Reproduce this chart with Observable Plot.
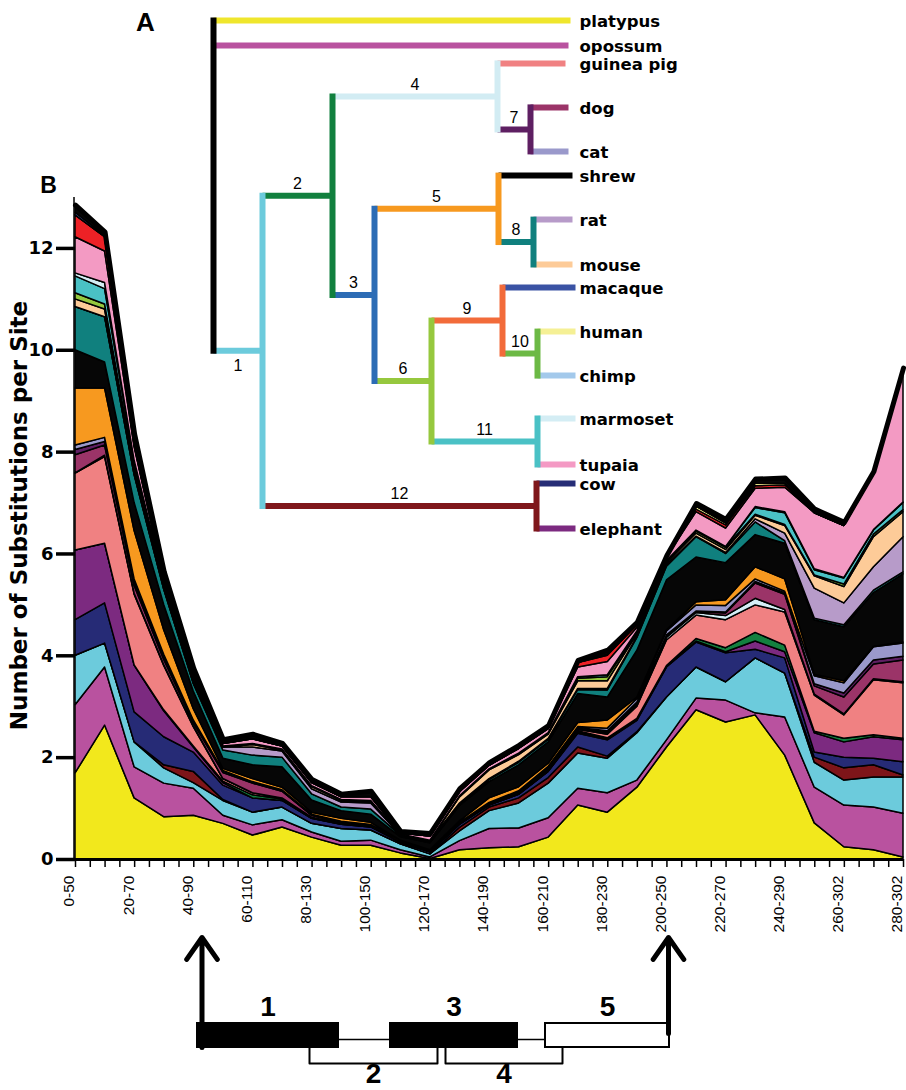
<!DOCTYPE html>
<html><head><meta charset="utf-8">
<script src="https://cdn.jsdelivr.net/npm/d3@7"></script>
<script src="https://cdn.jsdelivr.net/npm/@observablehq/plot@0.6"></script>
<style>
body{margin:0;background:#fff;}
#wrap{position:relative;width:906px;height:1090px;overflow:hidden;background:#fff}
#wrap svg{position:absolute;left:0;overflow:visible;background:transparent}
</style></head><body><div id="wrap"></div>
<script>
// ---------- DATA ----------
const windowLabels = ["0-50","10-60","20-70","30-80","40-90","50-100","60-110","70-120","80-130","90-140","100-150","110-160","120-170","130-180","140-190","150-200","160-210","170-220","180-230","190-240","200-250","210-260","220-270","230-280","240-290","250-300","260-302","270-302","280-302"];
const yTicks = [0, 2, 4, 6, 8, 10, 12];
const yTitle = "Number of Substitutions per Site";

// cumulative (stacked) upper boundary of each layer, bottom to top
const platypus  = [1.69,2.63,1.2,0.83,0.86,0.7,0.47,0.63,0.43,0.27,0.27,0.12,0.01,0.18,0.22,0.24,0.43,1.06,0.92,1.41,2.2,2.93,2.69,2.83,2.04,0.71,0.24,0.18,0.04];
const opossum   = [3.03,3.77,1.81,1.49,1.39,0.86,0.67,0.77,0.53,0.35,0.37,0.18,0.04,0.36,0.6,0.61,0.81,1.39,1.3,1.55,2.34,3.16,3.12,2.87,2.79,1.41,1.06,1.02,0.9];
const branch1   = [4.0,4.24,2.3,1.79,1.5,1.15,0.92,1.02,0.7,0.6,0.57,0.3,0.1,0.55,0.95,1.1,1.49,2.08,1.98,2.48,3.18,3.77,3.48,3.95,3.65,1.9,1.55,1.61,1.61];
const branch12  = [4.0,4.24,2.3,1.85,1.72,1.17,0.92,1.02,0.7,0.6,0.57,0.3,0.1,0.62,1.02,1.2,1.6,2.2,2.02,2.5,3.18,3.77,3.48,3.95,3.65,2.0,1.79,1.85,1.65];
const cow       = [4.7,5.03,2.89,2.4,2.1,1.45,1.2,1.15,0.8,0.68,0.63,0.33,0.14,0.68,1.06,1.27,1.72,2.47,2.34,2.72,3.77,4.26,4.05,4.12,3.95,2.1,2.0,1.98,1.91];
const elephant  = [6.07,6.2,3.81,2.91,2.2,1.5,1.2,1.15,0.8,0.68,0.63,0.33,0.14,0.68,1.06,1.27,1.72,2.5,2.36,2.74,3.78,4.28,4.07,4.28,4.07,2.48,2.3,2.4,2.34];
const branch2   = [6.07,6.2,3.81,2.93,2.22,1.53,1.26,1.18,0.81,0.69,0.64,0.33,0.14,0.69,1.07,1.28,1.73,2.52,2.38,2.76,3.8,4.33,4.15,4.45,4.2,2.51,2.37,2.44,2.37];
const guineaPig = [7.58,7.9,5.2,3.8,2.6,1.58,1.3,1.2,0.82,0.7,0.65,0.34,0.15,0.7,1.08,1.3,1.75,2.55,2.45,3.0,4.3,4.79,4.7,4.99,4.85,3.22,2.83,3.52,3.46];
const branch4   = [7.58,7.93,5.22,3.82,2.62,1.58,1.3,1.2,0.82,0.7,0.65,0.34,0.15,0.7,1.08,1.3,1.76,2.55,2.47,3.02,4.35,4.84,4.78,5.12,4.9,3.24,2.85,3.54,3.48];
const dog       = [7.94,8.13,5.37,3.92,2.68,1.7,1.49,1.33,0.86,0.72,0.67,0.35,0.16,0.71,1.09,1.31,1.77,2.57,2.5,3.06,4.38,4.86,4.83,5.42,5.2,3.4,3.18,3.83,3.91];
const branch7   = [8.04,8.2,5.43,3.97,2.71,1.72,1.5,1.34,0.86,0.72,0.67,0.35,0.16,0.71,1.09,1.31,1.78,2.58,2.52,3.08,4.4,4.87,4.85,5.45,5.23,3.44,3.26,3.91,3.98];
const cat       = [8.13,8.28,5.5,4.02,2.73,1.74,1.52,1.36,0.88,0.74,0.68,0.36,0.17,0.72,1.11,1.34,1.82,2.6,2.57,3.15,4.48,4.99,4.98,5.5,5.26,3.6,3.46,4.17,4.24];
const branch5   = [9.25,9.25,6.45,4.5,2.95,1.78,1.58,1.41,0.92,0.8,0.72,0.37,0.18,0.75,1.2,1.42,1.88,2.68,2.73,3.18,4.5,5.05,5.09,5.74,5.5,3.63,3.5,4.18,4.26];
const shrew     = [10.0,9.76,7.0,5.0,3.3,1.98,1.85,1.81,1.16,0.95,0.88,0.44,0.32,1.05,1.52,1.85,2.3,3.25,3.18,4.1,5.48,5.93,5.82,6.37,6.2,4.7,4.56,5.23,5.6];
const branch8   = [10.85,10.65,7.55,5.3,3.45,2.14,2.04,2.0,1.28,1.02,0.98,0.47,0.35,1.08,1.56,1.9,2.35,3.33,3.32,4.35,5.75,6.33,6.0,6.62,6.25,4.73,4.6,5.28,5.64];
const rat       = [10.85,10.65,7.55,5.3,3.45,2.2,2.2,2.12,1.38,1.12,1.1,0.48,0.36,1.1,1.58,1.92,2.37,3.35,3.35,4.37,5.78,6.34,6.02,6.68,6.4,5.32,5.03,5.74,6.33];
const mouse     = [11.0,10.8,7.63,5.36,3.5,2.2,2.25,2.14,1.42,1.15,1.13,0.48,0.36,1.22,1.75,2.05,2.45,3.5,3.5,4.42,5.82,6.4,6.08,6.75,6.55,5.56,5.35,6.33,6.82];
const branch6   = [11.12,10.9,7.68,5.39,3.52,2.21,2.26,2.15,1.43,1.16,1.14,0.48,0.36,1.23,1.76,2.07,2.47,3.55,3.58,4.45,5.85,6.44,6.12,6.77,6.57,5.58,5.4,6.38,6.86];
const branch11  = [11.45,11.2,7.8,5.45,3.57,2.21,2.27,2.16,1.44,1.17,1.15,0.49,0.37,1.24,1.77,2.08,2.48,3.58,3.62,4.48,5.86,6.46,6.14,6.9,6.8,5.68,5.52,6.46,7.0];
const marmoset  = [11.51,11.32,7.83,5.47,3.58,2.22,2.27,2.16,1.44,1.17,1.15,0.49,0.37,1.24,1.77,2.08,2.48,3.58,3.62,4.48,5.86,6.46,6.14,6.92,6.82,5.7,5.53,6.47,7.01];
const tupaia    = [12.22,11.94,8.1,5.5,3.63,2.27,2.36,2.22,1.5,1.22,1.22,0.51,0.45,1.32,1.84,2.17,2.56,3.77,3.88,4.55,5.93,6.82,6.5,7.28,7.3,6.8,6.55,7.56,9.55];
const branch9   = [12.65,12.22,8.13,5.51,3.64,2.27,2.36,2.22,1.5,1.22,1.22,0.51,0.45,1.32,1.84,2.17,2.56,3.86,4.0,4.6,5.93,6.87,6.56,7.33,7.35,6.8,6.55,7.56,9.55];
const human     = [12.65,12.22,8.13,5.51,3.64,2.27,2.36,2.22,1.5,1.22,1.22,0.51,0.45,1.32,1.84,2.17,2.56,3.86,4.02,4.6,5.93,6.93,6.6,7.38,7.38,6.8,6.55,7.56,9.55];
const macaque   = [12.7,12.25,8.17,5.53,3.66,2.28,2.37,2.23,1.51,1.23,1.23,0.51,0.45,1.33,1.84,2.18,2.57,3.86,4.02,4.6,5.93,6.93,6.6,7.38,7.38,6.8,6.55,7.56,9.55];
const total     = [12.85,12.32,8.35,5.65,3.75,2.35,2.46,2.28,1.57,1.28,1.34,0.55,0.51,1.39,1.9,2.24,2.63,3.91,4.11,4.66,5.97,6.99,6.68,7.47,7.49,6.88,6.62,7.62,9.65];

const seriesNames = ["platypus","opossum","branch 1","branch 12","cow","elephant","branch 2","guinea pig","branch 4","dog","branch 7","cat","branch 5","shrew","branch 8","rat","mouse","branch 6","branch 11","marmoset","tupaia","branch 9","human","macaque","other"];

// tree: node, parent, depth (branch-length units); leaves with their row
const treeIds     = ["root","platypus","opossum","1","2","4","guinea pig","7","dog","cat","3","5","shrew","8","rat","mouse","6","9","macaque","10","human","chimp","11","marmoset","tupaia","12","cow","elephant"];
const treeParents = [null,"root","root","root","1","2","4","4","7","7","2","3","5","5","8","8","3","6","9","9","10","10","6","11","11","1","12","12"];
const treeDepths  = [0,3.57,3.55,0.49,1.19,2.84,3.52,3.17,3.55,3.55,1.61,2.85,3.59,3.20,3.59,3.59,2.18,2.89,3.62,3.24,3.62,3.62,3.24,3.62,3.62,3.23,3.62,3.62];
const leafNames   = ["platypus","opossum","guinea pig","dog","cat","shrew","rat","mouse","macaque","human","chimp","marmoset","tupaia","cow","elephant"];
const leafRows    = [0,1.14,1.95,3.95,5.95,7.05,9.05,11.09,12.14,14.14,16.14,18.09,20.18,21.05,23.09];

// gene structure (schematic units)
const exonLabels = ["1","3","5"], exonStarts = [0,193,348], exonEnds = [141,320,472];
const altLabels = ["2","4"], altStarts = [112,248], altEnds = [240,365];
const intronStarts = [141,320], intronEnds = [193,348];
const arrowAt = [4.5, 471];

// ---------- STYLES ----------
const seriesColors = ["#f2e81c","#b9529f","#6ccbdc","#7e1519","#262b76","#7c2a80","#13803f","#f08182","#d4eef6","#9b3468","#5e1f62","#9a99cb","#f7991f","#060606","#10807e","#b79bc9","#fdcb98","#95c83e","#4ac1c5","#d4edf4","#f39ac3","#ed2126","#f5f08f","#3a53a4","#060606"];
const treeColors = {"root":"#000","platypus":"#efe62c","opossum":"#b9529f","1":"#6ccbdc","2":"#11803e","4":"#d2ecf3","guinea pig":"#f08182","7":"#5e1f62","dog":"#9b3468","cat":"#9a99cb","3":"#2c6cb5","5":"#f7991f","shrew":"#000","8":"#10807e","rat":"#b79bc9","mouse":"#fdcb98","6":"#96c83e","9":"#f26b3a","macaque":"#3a53a4","10":"#6cb945","human":"#f5f095","chimp":"#a3c9eb","11":"#4ac1c5","marmoset":"#d4edf4","tupaia":"#f49ac4","12":"#7f171b","cow":"#262d76","elephant":"#7c2a80"};
const exonFill = {"1":"#000","3":"#000","5":"#fff"};

// ---------- MAIN STACKED AREA ----------
const layerTops = [platypus,opossum,branch1,branch12,cow,elephant,branch2,guineaPig,branch4,dog,branch7,cat,branch5,shrew,branch8,rat,mouse,branch6,branch11,marmoset,tupaia,branch9,human,macaque,total];
const rows = [];
let lower = windowLabels.map(() => 0);
layerTops.forEach((tops, k) => {
  const upper = tops.map((t, i) => Math.max(t, lower[i]));
  upper.forEach((u, i) => rows.push({i, lo: lower[i], hi: u, series: seriesNames[k]}));
  lower = upper;
});
const totalRows = total.map((v, i) => ({i, v}));
const halfSteps = d3.range(0, windowLabels.length - 0.5, 0.5);
const labelSteps = d3.range(0, windowLabels.length, 2);

const main = Plot.plot({
  width: 906, height: 955,
  marginLeft: 75, marginRight: 3, marginTop: 197, marginBottom: 96,
  x: {domain: [0, windowLabels.length - 1]},
  y: {domain: [0, 13]},
  color: {domain: seriesNames, range: seriesColors},
  style: {fontFamily: "DejaVu Sans", background: "transparent", overflow: "visible"},
  marks: [
    Plot.areaY(rows, {x: "i", y1: "lo", y2: "hi", z: "series", fill: "series", stroke: "#000", strokeWidth: 1.5, strokeLinejoin: "round"}),
    Plot.lineY(totalRows, {x: "i", y: "v", stroke: "#000", strokeWidth: 5, strokeLinejoin: "round"}),
    Plot.ruleY([0], {stroke: "#000", strokeWidth: 3}),
    Plot.ruleX([0], {y1: () => 0, y2: () => 13, stroke: "#000", strokeWidth: 1.5, dx: -1.5}),
    Plot.axisY({ticks: yTicks, tickSize: 19, strokeWidth: 3.5, tickPadding: 3, fontSize: 18, fontWeight: "bold", label: null}),
    Plot.axisX({ticks: halfSteps, tickSize: 8, strokeWidth: 1.5, tickFormat: () => "", label: null}),
    Plot.axisX({ticks: labelSteps, tickSize: 0, tickPadding: 16, tickRotate: -90, dx: -6, tickFormat: d => windowLabels[d], fontSize: 15.5, fontFamily: "Liberation Sans", label: null}),
    Plot.text([yTitle], {frameAnchor: "left", textAnchor: "middle", lineAnchor: "middle", rotate: -90, dx: -56, dy: -13, fontSize: 23, fontWeight: "bold", fill: "#000"}),
    Plot.text(["B"], {frameAnchor: "top-left", textAnchor: "middle", lineAnchor: "middle", dx: -27, dy: -12, fontSize: 23, fontWeight: "bold", fontFamily: "Liberation Sans", fill: "#000"})
  ]
});

// ---------- TREE ----------
const depthOf = new Map(treeIds.map((id, k) => [id, treeDepths[k]]));
const parentOf = new Map(treeIds.map((id, k) => [id, treeParents[k]]));
const childrenOf = new Map(treeIds.map(id => [id, treeIds.filter((c, k) => treeParents[k] === id)]));
const leafRowOf = new Map(leafNames.map((n, k) => [n, leafRows[k]]));
const rowOf = new Map();
function row(id) {
  if (rowOf.has(id)) return rowOf.get(id);
  const ch = childrenOf.get(id);
  const r = ch.length ? (row(ch[0]) + row(ch[ch.length - 1])) / 2 : leafRowOf.get(id);
  rowOf.set(id, r);
  return r;
}
treeIds.forEach(row);
const horiz = treeIds.filter(id => parentOf.get(id)).map(id => ({x1: depthOf.get(parentOf.get(id)), x2: depthOf.get(id), y: rowOf.get(id), color: treeColors[id]}));
const vert = treeIds.filter(id => childrenOf.get(id).length).map(id => {
  const ch = childrenOf.get(id);
  return {x: depthOf.get(id), ya: rowOf.get(ch[0]), yb: rowOf.get(ch[ch.length - 1]), color: treeColors[id]};
});
const maxDepth = d3.max(treeDepths);
const leaves = leafNames.map(n => ({name: n, y: rowOf.get(n)}));
const branchNodes = treeIds.filter(id => parentOf.get(id) && childrenOf.get(id).length).map(id => ({id, x: (depthOf.get(parentOf.get(id)) + depthOf.get(id)) / 2, y: rowOf.get(id)}));

const tree = Plot.plot({
  width: 906, height: 560,
  marginLeft: 213, marginRight: 331, marginTop: 20, marginBottom: 32,
  x: {domain: [0, maxDepth], axis: null},
  y: {domain: [0, d3.max(leafRows)], reverse: true, axis: null},
  color: {type: "identity"},
  style: {background: "transparent", overflow: "visible"},
  marks: [
    Plot.link(horiz, {x1: "x1", x2: "x2", y1: "y", y2: "y", stroke: "color", strokeWidth: 6}),
    Plot.link(vert, {x1: "x", x2: "x", y1: "ya", y2: "yb", stroke: "color", strokeWidth: 6, strokeLinecap: "square"}),
    Plot.text(leaves, {x: () => maxDepth, y: "y", text: "name", dx: 4, dy: 1, textAnchor: "start", fontSize: 16.5, fontWeight: "bold", fontFamily: "DejaVu Sans", fill: "#000"}),
    Plot.text(branchNodes.filter(d => d.id !== "1"), {x: "x", y: "y", text: "id", dy: -12, fontSize: 16, fontFamily: "Liberation Sans", fill: "#000"}),
    Plot.text(branchNodes.filter(d => d.id === "1"), {x: "x", y: "y", text: "id", dy: 15, fontSize: 16, fontFamily: "Liberation Sans", fill: "#000"}),
    Plot.text(["A"], {frameAnchor: "top-left", textAnchor: "middle", lineAnchor: "middle", dx: -68, dy: 2, fontSize: 26, fontWeight: "bold", fontFamily: "Liberation Sans", fill: "#000"})
  ]
});

// ---------- GENE DIAGRAM ----------
const exons = exonLabels.map((l, k) => ({label: l, start: exonStarts[k], end: exonEnds[k], fill: exonFill[l]}));
const alts = altLabels.map((l, k) => ({label: l, start: altStarts[k], end: altEnds[k]}));
const introns = intronStarts.map((s, k) => ({start: s, end: intronEnds[k]}));
const BOX_LO = 4.3, BOX_HI = 6.7, LINE_Y = 5.1, BRACKET_LO = 2.7;
const bracketPts = alts.flatMap(a => [
  {x: a.start, y: BOX_LO, z: a.label}, {x: a.start, y: BRACKET_LO, z: a.label},
  {x: a.end, y: BRACKET_LO, z: a.label}, {x: a.end, y: BOX_LO, z: a.label}]);
const arrows = arrowAt.map((x, k) => ({x, y1: k === 0 ? BOX_LO : 5.7, y2: 15.3}));

const gene = Plot.plot({
  width: 906, height: 190,
  marginLeft: 197, marginRight: 237, marginTop: 0, marginBottom: 0,
  x: {domain: [0, 472], axis: null},
  y: {domain: [0, 19], axis: null},
  color: {type: "identity"},
  style: {background: "transparent", overflow: "visible"},
  marks: [
    Plot.ruleY(introns, {x1: "start", x2: "end", y: () => LINE_Y, stroke: "#000", strokeWidth: 1.5}),
    Plot.line(bracketPts, {x: "x", y: "y", z: "z", stroke: "#000", strokeWidth: 2}),
    Plot.rect(exons, {x1: "start", x2: "end", y1: () => BOX_LO, y2: () => BOX_HI, fill: "fill", stroke: "#000", strokeWidth: 2}),
    Plot.arrow(arrows, {x1: "x", x2: "x", y1: "y1", y2: "y2", stroke: "#000", strokeWidth: 5, headLength: 8, headAngle: 70}),
    Plot.text(exons, {x: d => (d.start + d.end) / 2, y: () => 8.3, text: "label", fontSize: 28, fontWeight: "bold", fontFamily: "Liberation Sans", fill: "#000"}),
    Plot.text(alts, {x: d => (d.start + d.end) / 2, y: () => 1.6, text: "label", fontSize: 28, fontWeight: "bold", fontFamily: "Liberation Sans", fill: "#000"})
  ]
});

const wrap = document.getElementById("wrap");
main.style.top = "0px";
tree.style.top = "0px";
gene.style.top = "900px";
wrap.append(main, tree, gene);
</script></body></html>
